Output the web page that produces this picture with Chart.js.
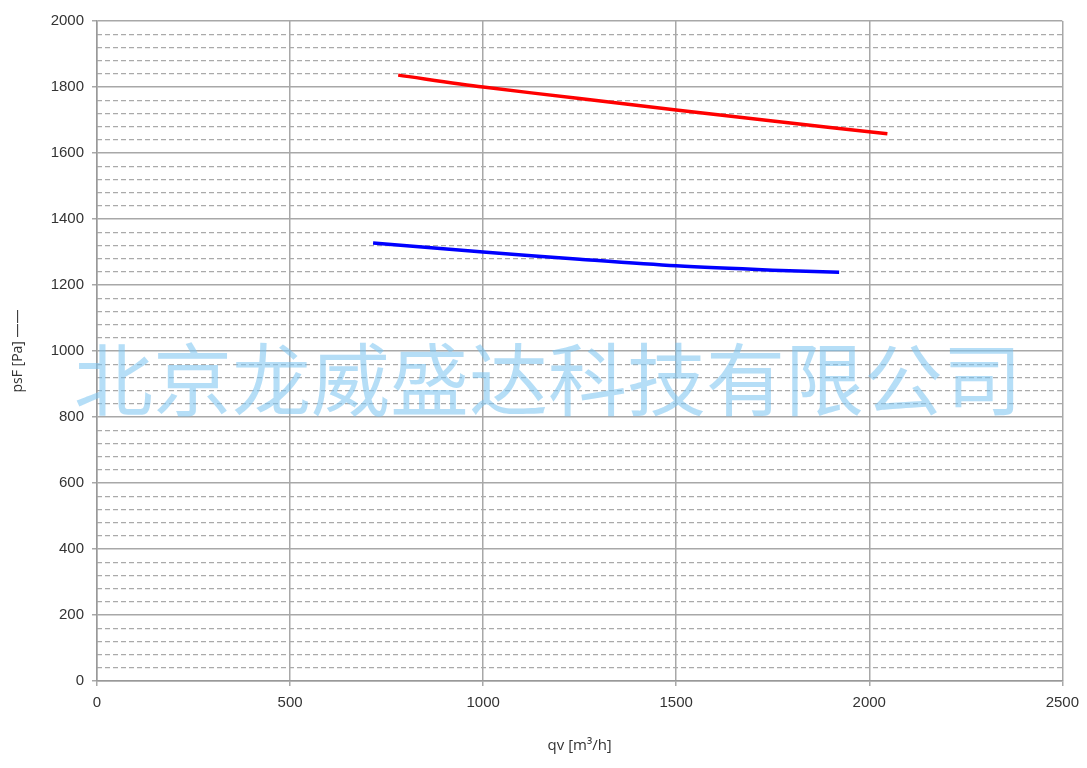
<!DOCTYPE html>
<html>
<head>
<meta charset="utf-8">
<script src="https://cdn.jsdelivr.net/npm/chart.js@4.4.1/dist/chart.umd.min.js"></script>
<style>
  html, body { margin: 0; padding: 0; background: #fff; }
  #wrap { width: 1087px; height: 768px; }
</style>
</head>
<body>
<div id="wrap"><canvas id="fanChart"></canvas></div>
<script>
// curve points (qv m3/h, psF Pa)
const redQv = [780, 1000, 1250, 1500, 1750, 2047];
const redPs = [1836, 1800, 1765, 1730, 1697, 1658];
const blueQv = [715, 1000, 1250, 1500, 1750, 1922];
const bluePs = [1327, 1300, 1278, 1258, 1245, 1239];

const xTicks = [0, 500, 1000, 1500, 2000, 2500];
const yTicks = [0, 200, 400, 600, 800, 1000, 1200, 1400, 1600, 1800, 2000];
const watermark = '北京龙威盛达科技有限公司';

const toPoints = (xs, ys) => xs.map((x, i) => ({ x: x, y: ys[i] }));

const watermarkPlugin = {
    id: 'watermark',
    afterDraw(chart) {
        const ctx = chart.ctx;
        ctx.save();
        ctx.font = '79px "Noto Sans CJK SC"';
        ctx.fillStyle = 'rgba(120, 195, 240, 0.55)';
        ctx.textBaseline = 'middle';
        ctx.textAlign = 'left';
        ctx.fillText(watermark, 74, 380);
        ctx.restore();
    }
};

const ctx = document.getElementById('fanChart').getContext('2d');
new Chart(ctx, {
    type: 'line',
    data: {
        datasets: [{
            data: toPoints(redQv, redPs),
            borderColor: '#ff0000',
            borderWidth: 3.5,
            pointRadius: 0,
            tension: 0.3
        }, {
            data: toPoints(blueQv, bluePs),
            borderColor: '#0000ff',
            borderWidth: 3.5,
            pointRadius: 0,
            tension: 0.3
        }]
    },
    options: {
        responsive: true,
        maintainAspectRatio: false,
        animation: false,
        layout: { padding: { top: 21, right: 24, left: 0, bottom: 9 } },
        plugins: { legend: { display: false }, tooltip: { enabled: false } },
        scales: {
            x: {
                type: 'linear',
                min: 0,
                max: 2500,
                afterBuildTicks: axis => { axis.ticks = xTicks.map(v => ({ value: v })); },
                afterFit: axis => { axis.height = 78; },
                grid: { color: '#a8a8a8', lineWidth: 1.5, tickLength: 5 },
                border: { color: '#999', width: 1.5 },
                ticks: {
                    color: '#333', font: { family: 'Liberation Sans', size: 15 }, padding: 8, maxRotation: 0,
                    callback: v => String(v)
                },
                title: { display: true, text: 'qv [m³/h]', color: '#333', font: { family: 'Open Sans', size: 15 }, padding: { top: 2 } }
            },
            yMinor: {
                type: 'linear',
                position: 'left',
                min: 0,
                max: 2000,
                ticks: { display: false, stepSize: 40 },
                afterFit: axis => { axis.width = 0; },
                grid: {
                    drawTicks: false,
                    lineWidth: 1.2,
                    color: c => (c.tick && c.tick.value % 200 === 0) ? 'rgba(0,0,0,0)' : '#aaaaaa'
                },
                border: { display: false, dash: [5, 3] }
            },
            y: {
                type: 'linear',
                min: 0,
                max: 2000,
                afterBuildTicks: axis => { axis.ticks = yTicks.map(v => ({ value: v })); },
                afterFit: axis => { axis.width = 97; },
                grid: { color: '#a8a8a8', lineWidth: 1.5, tickLength: 5 },
                border: { color: '#999', width: 1.5 },
                ticks: {
                    color: '#333', font: { family: 'Liberation Sans', size: 15 }, padding: 8,
                    callback: v => String(v)
                },
                title: { display: true, text: 'psF [Pa] ——', color: '#333', font: { family: 'Open Sans', size: 14 }, padding: { top: 10, bottom: 2 } }
            }
        }
    },
    plugins: [watermarkPlugin]
});
</script>
</body>
</html>
